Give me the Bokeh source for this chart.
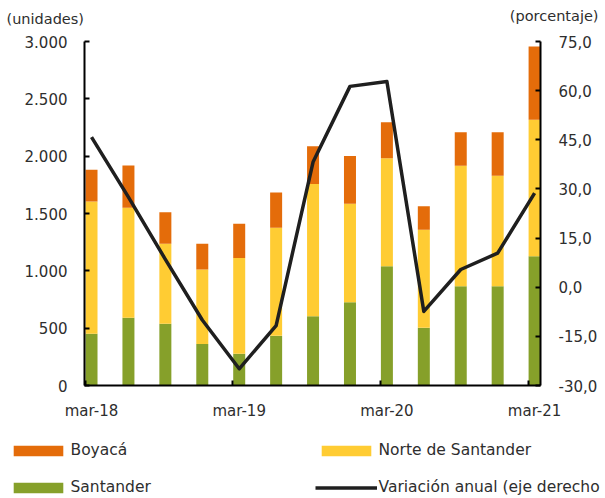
from bokeh.plotting import figure
from bokeh.models import (Range1d, LinearAxis, FixedTicker, Legend, LegendItem,
                          Label, ColumnDataSource)
from bokeh.embed import file_html
from bokeh.resources import INLINE

# ---- data ----
periods = ["mar-18", "jun-18", "sep-18", "dic-18", "mar-19", "jun-19", "sep-19",
           "dic-19", "mar-20", "jun-20", "sep-20", "dic-20", "mar-21"]
santander = [451, 590, 538, 363, 276, 433, 604, 726, 1040, 503, 866, 866, 1128]
norte_santander = [1153, 960, 698, 648, 837, 942, 1154, 858, 942, 855, 1050, 963, 1189]
boyaca = [277, 368, 275, 225, 297, 308, 329, 418, 314, 206, 293, 380, 639]
variacion = [45.8, 27.5, 8.5, -10.0, -24.9, -11.7, 38.2, 61.3, 62.8, -7.4, 5.4, 10.4, 28.7]
left_ticks = [0, 500, 1000, 1500, 2000, 2500, 3000]
right_ticks = [-30, -15, 0, 15, 30, 45, 60, 75]
label_every = 4

# ---- layout (pixels) ----
W, H = 605, 498
PL, PR, PT, PB = 84, 540, 41, 385          # plot-area edges inside the canvas
X0, X1 = -0.19, 12.16                      # data x at plot-area left / right

# ---- styles ----
FONT = "DejaVu Sans"
TXT = "#2e2e2e"
C_BOY = "#E46C0A"
C_NOR = "#FFCC33"
C_SAN = "#86A02A"
C_LINE = "#1f1f1f"

# the frame fills the whole canvas; axes are pinned at the plot-area edges
sx = (PR - PL) / (X1 - X0)
x_rng = Range1d(X0 - PL / sx, X1 + (W - PR) / sx)
ly0, ly1 = left_ticks[0], left_ticks[-1]
sy = (PB - PT) / (ly1 - ly0)
y_rng = Range1d(ly0 - (H - PB) / sy, ly1 + PT / sy)
ry0, ry1 = right_ticks[0], right_ticks[-1]
sr = (PB - PT) / (ry1 - ry0)
r_rng = Range1d(ry0 - (H - PB) / sr, ry1 + PT / sr)

xs = list(range(len(periods)))
src = ColumnDataSource(dict(x=xs, santander=santander, norte=norte_santander,
                            boyaca=boyaca, variacion=variacion))

p = figure(width=W, height=H, output_backend="svg", toolbar_location=None,
           x_range=x_rng, y_range=y_rng, min_border=0)
p.extra_y_ranges = {"pct": r_rng}
p.outline_line_color = None
p.xgrid.visible = False
p.ygrid.visible = False

rs = p.vbar_stack(["santander", "norte", "boyaca"], x="x", width=0.325,
                  color=[C_SAN, C_NOR, C_BOY], line_color=None, source=src)
r_san, r_nor, r_boy = rs
r_line = p.line("x", "variacion", source=src, y_range_name="pct",
                line_color=C_LINE, line_width=3.5, line_join="round")

def fmt_thousands(v):
    return f"{v:,}".replace(",", ".")

def fmt_pct(v):
    return f"{v:.1f}".replace(".", ",")

def style_axis(ax, standoff):
    ax.major_tick_line_width = 2
    ax.axis_line_width = 2
    ax.axis_line_color = "black"
    ax.major_tick_line_color = "black"
    ax.major_label_standoff = standoff
    ax.major_label_text_font = FONT
    ax.major_label_text_font_size = "15px"
    ax.major_label_text_color = TXT

ya = p.yaxis[0]
ya.ticker = FixedTicker(ticks=left_ticks)
ya.major_label_overrides = {t: fmt_thousands(t) for t in left_ticks}
ya.fixed_location = X0
ya.bounds = (ly0, ly1)
ya.major_tick_in = 5
ya.major_tick_out = 0
ya.minor_tick_line_color = None
style_axis(ya, 17)

ra = LinearAxis(y_range_name="pct", ticker=FixedTicker(ticks=right_ticks),
                fixed_location=X1, bounds=(ry0, ry1))
ra.major_label_overrides = {t: fmt_pct(t) for t in right_ticks}
ra.major_tick_in = 5
ra.major_tick_out = 0
ra.minor_tick_line_color = None
style_axis(ra, 18)
p.add_layout(ra, "right")

xa = p.xaxis[0]
lab_idx = xs[::label_every]
xa.ticker = FixedTicker(ticks=lab_idx, minor_ticks=[i - 0.17 for i in lab_idx])
xa.major_label_overrides = {i: periods[i] for i in lab_idx}
xa.fixed_location = ly0
xa.bounds = (X0, X1)
style_axis(xa, 10)
xa.major_tick_line_color = None
xa.minor_tick_in = 5
xa.minor_tick_out = 0
xa.minor_tick_line_width = 2
xa.minor_tick_line_color = "black"

# axis titles
p.add_layout(Label(x=6, y=H - 18, x_units="screen", y_units="screen", text="(unidades)",
                   text_baseline="middle", text_font=FONT, text_font_size="14.5px",
                   text_color=TXT))
p.add_layout(Label(x=598, y=H - 15, x_units="screen", y_units="screen", text="(porcentaje)",
                   text_baseline="middle", text_align="right", text_font=FONT,
                   text_font_size="14.5px", text_color=TXT))

legend = Legend(items=[LegendItem(label="Boyacá", renderers=[r_boy]),
                       LegendItem(label="Santander", renderers=[r_san]),
                       LegendItem(label="Norte de Santander", renderers=[r_nor]),
                       LegendItem(label="Variación anual (eje derecho", renderers=[r_line])],
                orientation="vertical", ncols=2, location=(6.5, 1),
                padding=0, margin=0, spacing=17, label_width=227,
                border_line_color=None, background_fill_alpha=0,
                glyph_width=62, glyph_height=13, label_standoff=2,
                label_text_font=FONT, label_text_font_size="15.5px",
                label_text_color=TXT, label_height=20)
p.add_layout(legend, "center")

open("out.html", "w").write(file_html(p, INLINE))
